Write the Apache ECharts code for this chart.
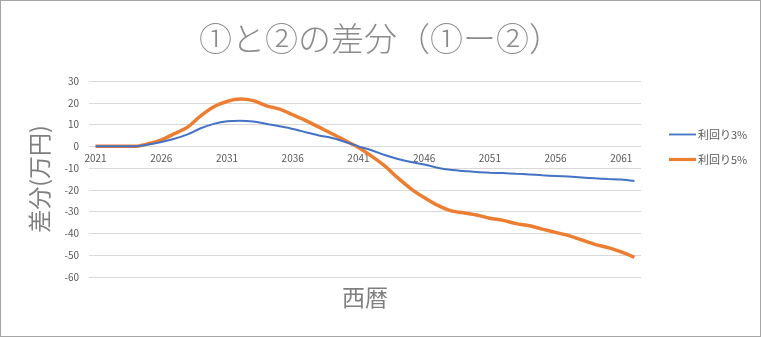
<!DOCTYPE html>
<html><head><meta charset="utf-8">
<script src="https://cdn.jsdelivr.net/npm/echarts@6/dist/echarts.min.js"></script>
<style>html,body{margin:0;padding:0;background:#fff}#c{width:761px;height:337px;box-sizing:border-box;border:1px solid #a6a6a6}</style>
</head><body><div id="c"></div>
<script>
var years = [];
for (var y = 2021; y <= 2062; y++) years.push(String(y));
var rate3 = [0,0,0,0,0.8,2,3.5,5.5,8.3,10.3,11.5,11.8,11.4,10.3,9.2,8,6.5,5,3.8,2,0,-1.8,-4,-5.8,-7.2,-8.3,-9.8,-10.8,-11.3,-11.8,-12.1,-12.3,-12.6,-12.9,-13.3,-13.6,-13.9,-14.3,-14.7,-15,-15.2,-15.9];
var rate5 = [0,0,0,0,1.2,3,5.8,8.8,14,18.2,20.6,21.7,21,18.6,17.1,14.5,11.8,8.8,5.8,2.6,-0.5,-4.5,-9,-14.5,-19.5,-23.5,-27,-29.5,-30.5,-31.5,-33,-34,-35.5,-36.5,-38,-39.5,-41,-43,-45,-46.5,-48.5,-51];
var seriesNames = ['利回り3%','利回り5%'];
var chart = echarts.init(document.getElementById('c'));
var font = '"Noto Sans CJK JP", "Noto Sans", sans-serif';
chart.setOption({
  animation:false,
  title:{text:'①と②の差分（①ー②）',left:'center',top:16,textStyle:{fontSize:33,fontWeight:300,color:'#8c8c8c',fontFamily:font}},
  graphic:[{type:'text',left:341,top:285,style:{text:'西暦',fontSize:23,fill:'#7f7f7f',fontFamily:font}}],
  legend:{orient:'vertical',left:668,top:128,padding:0,itemWidth:27,itemHeight:8,itemGap:14,
    data:[{name:seriesNames[0],itemStyle:{color:'#4472c4'},icon:'path://M0,3.5L30,3.5L30,5.5L0,5.5Z'},{name:seriesNames[1],itemStyle:{color:'#ed7d31'},icon:'path://M0,2.5L30,2.5L30,6L0,6Z'}],
    textStyle:{fontSize:11,color:'#595959',fontFamily:font,padding:[0,0,0,-3]}},
  grid:{left:88,right:119,top:80,bottom:59},
  xAxis:{type:'category',data:years,boundaryGap:true,offset:-132,
    axisLine:{show:false,onZero:false},axisTick:{show:false},
    axisLabel:{interval:4,color:'#595959',fontSize:10,margin:8,fontFamily:font}},
  yAxis:{type:'value',min:-60,max:30,interval:10,
    name:'差分(万円)',nameLocation:'middle',nameRotate:90,nameGap:38,
    nameTextStyle:{fontSize:23,color:'#7f7f7f',fontFamily:font},
    axisLine:{show:false},axisTick:{show:false},
    axisLabel:{color:'#595959',fontSize:10,margin:10,fontFamily:font},
    splitLine:{lineStyle:{color:'#d9d9d9'}}},
  series:[
    {name:seriesNames[0],type:'line',data:rate3,symbol:'none',smooth:0.3,lineStyle:{color:'#4472c4',width:2},itemStyle:{color:'#4472c4'},z:3},
    {name:seriesNames[1],type:'line',data:rate5,symbol:'none',smooth:0.3,lineStyle:{color:'#ed7d31',width:3.5},itemStyle:{color:'#ed7d31'},z:2}
  ]
});
</script></body></html>
